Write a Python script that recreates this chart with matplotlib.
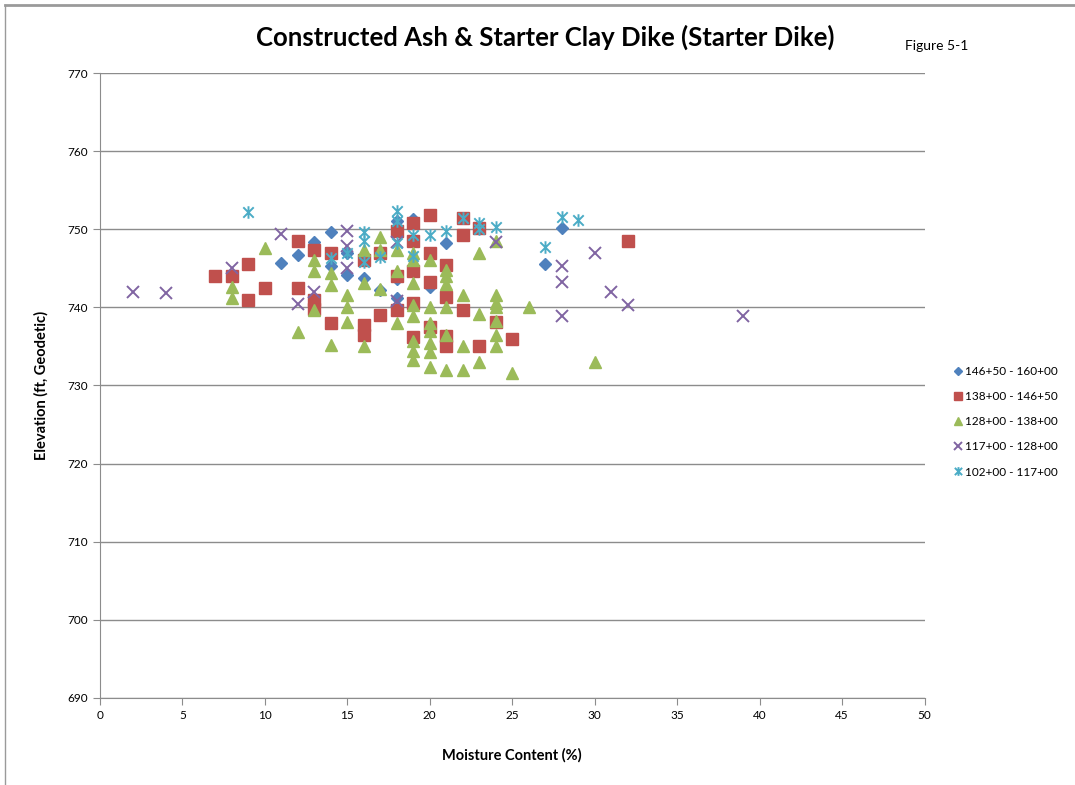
import matplotlib.pyplot as plt
from matplotlib.path import Path
from matplotlib.lines import Line2D

plt.rcParams['font.family'] = ['Lato', 'DejaVu Sans']

# --- data (moisture %, elevation ft) ---
s1_label = "146+50 - 160+00"
s1_x = [11, 12, 13, 14, 14, 15, 15, 16, 17, 18, 18, 18, 19, 20, 21, 27, 28]
s1_y = [745.7, 746.7, 748.4, 749.7, 745.3, 744.2, 747.0, 743.8, 742.2, 741.2,
        743.6, 751.0, 751.3, 742.6, 748.2, 745.6, 750.2]

s2_label = "138+00 - 146+50"
s2_x = [7, 8, 9, 9, 10, 12, 12, 13, 13, 13, 14, 14, 16, 16, 16, 17, 17, 18, 18,
        18, 19, 19, 19, 19, 19, 20, 20, 20, 20, 21, 21, 21, 21, 22, 22, 22, 23,
        23, 24, 25, 32]
s2_y = [744.0, 744.0, 745.5, 741.0, 742.5, 748.5, 742.5, 747.3, 741.0, 739.8,
        747.0, 738.0, 746.0, 737.7, 736.4, 747.0, 739.0, 744.0, 749.8, 739.6,
        750.8, 748.5, 744.7, 740.5, 736.2, 751.8, 747.0, 743.2, 737.5, 745.4,
        741.3, 736.3, 735.0, 751.4, 749.3, 739.7, 750.2, 735.0, 738.1, 736.0,
        748.5]

s3_label = "128+00 - 138+00"
s3_x = [8, 8, 10, 12, 13, 13, 13, 14, 14, 14, 15, 15, 15, 16, 16, 16, 17, 17,
        17, 18, 18, 18, 19, 19, 19, 19, 19, 19, 19, 19, 20, 20, 20, 20, 20, 20,
        20, 21, 21, 21, 21, 21, 21, 22, 22, 22, 23, 23, 23, 24, 24, 24, 24, 24,
        24, 24, 25, 26, 30]
s3_y = [742.6, 741.2, 747.6, 736.8, 746.0, 744.6, 739.7, 744.4, 742.9, 735.2,
        741.6, 740.0, 738.1, 743.1, 735.0, 747.4, 749.0, 747.4, 742.4, 744.6,
        747.4, 738.0, 746.0, 743.1, 740.3, 738.9, 735.7, 734.4, 733.3, 747.0,
        746.0, 740.0, 738.0, 737.0, 735.4, 734.3, 732.3, 744.8, 744.0, 743.0,
        740.0, 736.5, 732.0, 741.6, 735.0, 732.0, 747.0, 739.2, 733.0, 741.6,
        740.5, 740.0, 738.3, 736.4, 735.0, 748.5, 731.6, 740.0, 733.0]

s4_label = "117+00 - 128+00"
s4_x = [2, 4, 8, 11, 12, 13, 15, 15, 15, 18, 18, 24, 28, 28, 28, 30, 31, 32, 39]
s4_y = [742.0, 741.8, 745.0, 749.4, 740.4, 742.0, 749.8, 747.8, 745.0, 740.8,
        748.4, 748.4, 745.3, 743.3, 738.9, 746.9, 741.9, 740.3, 738.9]

s5_label = "102+00 - 117+00"
s5_x = [9, 14, 15, 16, 16, 16, 17, 18, 18, 18, 19, 19, 20, 21, 22, 23, 23, 24,
        27, 28, 29]
s5_y = [752.2, 746.3, 747.0, 749.6, 748.5, 745.8, 746.5, 752.3, 751.0, 748.2,
        749.3, 746.6, 749.3, 749.8, 751.4, 750.8, 750.0, 750.3, 747.7, 751.6,
        751.2]

x_ticks = list(range(0, 51, 5))
y_ticks = list(range(690, 771, 10))

# Excel-style "star" marker: an X with a vertical bar
star = Path([(-1, -1), (1, 1), (-1, 1), (1, -1), (0, -1.2), (0, 1.2)],
            [Path.MOVETO, Path.LINETO, Path.MOVETO, Path.LINETO,
             Path.MOVETO, Path.LINETO])

fig = plt.figure(figsize=(10.75, 7.85), dpi=100)
ax = fig.add_axes([0.093, 0.111, 0.767, 0.796])

ax.plot(s1_x, s1_y, 'D', ms=6, color='#4F81BD', mec='#4F81BD', label=s1_label)
ax.plot(s2_x, s2_y, 's', ms=8, color='#C0504D', mec='#C0504D', label=s2_label)
ax.plot(s3_x, s3_y, '^', ms=8.5, color='#9BBB59', mec='#9BBB59', label=s3_label)
ax.plot(s4_x, s4_y, 'x', ms=8, mew=1.4, color='#8064A2', label=s4_label)
ax.plot(s5_x, s5_y, ls='none', marker=star, ms=9, mew=1.4, color='#4BACC6',
        label=s5_label)

ax.set_xlim(0, 50)
ax.set_ylim(690, 770)
ax.set_xticks(x_ticks)
ax.set_yticks(y_ticks)
ax.yaxis.grid(True, color='#8c8c8c', lw=1)
ax.set_axisbelow(True)
for side in ['top', 'right']:
    ax.spines[side].set_visible(False)
for side in ['left', 'bottom']:
    ax.spines[side].set_color('#8c8c8c')
ax.tick_params(axis='both', colors='#8c8c8c', labelcolor='black',
               labelsize=8.5, length=5)

ax.set_xlabel("Moisture Content (%)", fontsize=10.5, fontweight='bold', labelpad=20)
ax.set_ylabel("Elevation (ft, Geodetic)", fontsize=10.5, fontweight='bold', labelpad=14)

fig.text(0.507, 0.953, "Constructed Ash & Starter Clay Dike (Starter Dike)",
         ha='center', va='center', fontsize=18.5, fontweight='bold')
fig.text(0.842, 0.942, "Figure 5-1", ha='left', va='center', fontsize=10)

ax.legend(loc='center left', bbox_to_anchor=(1.02, 0.442), frameon=False,
          fontsize=8.5, handletextpad=0.1, handlelength=1.0, markerscale=0.7,
          labelspacing=1.2)

# thin frame lines at the top and left of the picture
fig.add_artist(Line2D([0.005, 1.0], [0.994, 0.994], color='#9a9a9a', lw=2))
fig.add_artist(Line2D([0.005, 0.005], [0.0, 0.994], color='#9a9a9a', lw=1))

fig.savefig("out.png", dpi=100)
